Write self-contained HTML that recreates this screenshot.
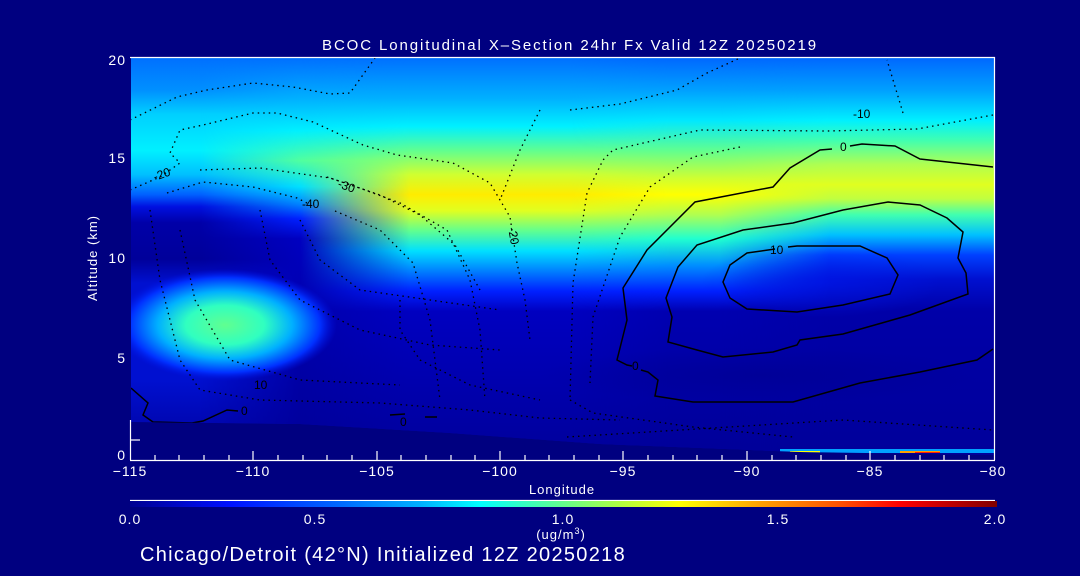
<!DOCTYPE html>
<html><head><meta charset="utf-8"><style>
html,body{margin:0;padding:0;background:#000080;}
svg{display:block;font-family:"Liberation Sans",sans-serif;}
</style></head><body>
<svg width="1080" height="576" viewBox="0 0 1080 576" xmlns="http://www.w3.org/2000/svg">
<defs>
<linearGradient id="gA" x1="0" y1="58" x2="0" y2="460" gradientUnits="userSpaceOnUse">
<stop offset="0" stop-color="#0070ff"/><stop offset="0.08" stop-color="#0090ff"/><stop offset="0.14" stop-color="#00d0ff"/><stop offset="0.23" stop-color="#00f0ff"/><stop offset="0.29" stop-color="#00c0ff"/><stop offset="0.34" stop-color="#0060ff"/><stop offset="0.37" stop-color="#0010e0"/><stop offset="0.41" stop-color="#0000a8"/><stop offset="0.5" stop-color="#00009a"/><stop offset="0.56" stop-color="#0010d0"/><stop offset="0.8" stop-color="#0010d0"/><stop offset="1" stop-color="#00009a"/></linearGradient>
<linearGradient id="gB" x1="0" y1="58" x2="0" y2="460" gradientUnits="userSpaceOnUse">
<stop offset="0" stop-color="#0070ff"/><stop offset="0.1" stop-color="#00b0ff"/><stop offset="0.18" stop-color="#00f0ff"/><stop offset="0.255" stop-color="#50ffa0"/><stop offset="0.32" stop-color="#00e0ff"/><stop offset="0.365" stop-color="#0080ff"/><stop offset="0.40" stop-color="#0020ff"/><stop offset="0.45" stop-color="#0000c0"/><stop offset="0.6" stop-color="#0000b0"/><stop offset="1" stop-color="#000098"/></linearGradient>
<linearGradient id="gC" x1="0" y1="58" x2="0" y2="460" gradientUnits="userSpaceOnUse">
<stop offset="0" stop-color="#0070ff"/><stop offset="0.1" stop-color="#00b0ff"/><stop offset="0.17" stop-color="#00f0ff"/><stop offset="0.23" stop-color="#60ff90"/><stop offset="0.29" stop-color="#d0ff30"/><stop offset="0.34" stop-color="#ffec00"/><stop offset="0.38" stop-color="#e0ff20"/><stop offset="0.43" stop-color="#60ff90"/><stop offset="0.48" stop-color="#00e0ff"/><stop offset="0.53" stop-color="#0080ff"/><stop offset="0.58" stop-color="#0020ff"/><stop offset="0.63" stop-color="#0000c0"/><stop offset="1" stop-color="#00009a"/></linearGradient>
<linearGradient id="gD" x1="0" y1="58" x2="0" y2="460" gradientUnits="userSpaceOnUse">
<stop offset="0" stop-color="#0068ff"/><stop offset="0.08" stop-color="#00a0ff"/><stop offset="0.155" stop-color="#00e8ff"/><stop offset="0.23" stop-color="#60ff90"/><stop offset="0.3" stop-color="#d0ff30"/><stop offset="0.34" stop-color="#ffff00"/><stop offset="0.39" stop-color="#b0ff50"/><stop offset="0.45" stop-color="#20ffd0"/><stop offset="0.515" stop-color="#0090ff"/><stop offset="0.58" stop-color="#0020ff"/><stop offset="0.63" stop-color="#0000b0"/><stop offset="1" stop-color="#000098"/></linearGradient>
<linearGradient id="gE" x1="0" y1="58" x2="0" y2="460" gradientUnits="userSpaceOnUse">
<stop offset="0" stop-color="#0068ff"/><stop offset="0.08" stop-color="#00a0ff"/><stop offset="0.155" stop-color="#00f0ff"/><stop offset="0.205" stop-color="#40ffb0"/><stop offset="0.265" stop-color="#b0ff50"/><stop offset="0.315" stop-color="#e0ff20"/><stop offset="0.35" stop-color="#c0ff40"/><stop offset="0.39" stop-color="#40ffb0"/><stop offset="0.44" stop-color="#00c0ff"/><stop offset="0.49" stop-color="#0040ff"/><stop offset="0.55" stop-color="#0010d0"/><stop offset="0.63" stop-color="#0000a8"/><stop offset="1" stop-color="#00009a"/></linearGradient>
<linearGradient id="fB" x1="200" y1="0" x2="300" y2="0" gradientUnits="userSpaceOnUse"><stop offset="0" stop-color="#fff" stop-opacity="0"/><stop offset="1" stop-color="#fff"/></linearGradient>
<linearGradient id="fC" x1="300" y1="0" x2="410" y2="0" gradientUnits="userSpaceOnUse"><stop offset="0" stop-color="#fff" stop-opacity="0"/><stop offset="1" stop-color="#fff"/></linearGradient>
<linearGradient id="fD" x1="570" y1="0" x2="670" y2="0" gradientUnits="userSpaceOnUse"><stop offset="0" stop-color="#fff" stop-opacity="0"/><stop offset="1" stop-color="#fff"/></linearGradient>
<linearGradient id="fE" x1="720" y1="0" x2="830" y2="0" gradientUnits="userSpaceOnUse"><stop offset="0" stop-color="#fff" stop-opacity="0"/><stop offset="1" stop-color="#fff"/></linearGradient>
<mask id="mB" maskUnits="userSpaceOnUse" x="0" y="0" width="1080" height="576"><rect x="0" y="0" width="1080" height="576" fill="url(#fB)"/></mask>
<mask id="mC" maskUnits="userSpaceOnUse" x="0" y="0" width="1080" height="576"><rect x="0" y="0" width="1080" height="576" fill="url(#fC)"/></mask>
<mask id="mD" maskUnits="userSpaceOnUse" x="0" y="0" width="1080" height="576"><rect x="0" y="0" width="1080" height="576" fill="url(#fD)"/></mask>
<mask id="mE" maskUnits="userSpaceOnUse" x="0" y="0" width="1080" height="576"><rect x="0" y="0" width="1080" height="576" fill="url(#fE)"/></mask>
<radialGradient id="blob" cx="0.5" cy="0.5" r="0.5">
<stop offset="0" stop-color="#60ff90"/><stop offset="0.35" stop-color="#30ffc0"/><stop offset="0.6" stop-color="#00b0ff"/><stop offset="0.85" stop-color="#0030ff"/><stop offset="1" stop-color="#0010e0" stop-opacity="0"/></radialGradient>
<radialGradient id="hole" cx="0.5" cy="0.5" r="0.5">
<stop offset="0" stop-color="#0018f0" stop-opacity="0.6"/><stop offset="1" stop-color="#0018f0" stop-opacity="0"/></radialGradient>
<radialGradient id="dk" cx="0.5" cy="0.5" r="0.5">
<stop offset="0" stop-color="#000090" stop-opacity="0.6"/><stop offset="1" stop-color="#000090" stop-opacity="0"/></radialGradient>
<linearGradient id="cb" x1="130" y1="0" x2="997" y2="0" gradientUnits="userSpaceOnUse">
<stop offset="0" stop-color="#000090"/><stop offset="0.115" stop-color="#0010ff"/><stop offset="0.23" stop-color="#0060ff"/><stop offset="0.335" stop-color="#00b0ff"/><stop offset="0.404" stop-color="#00ffff"/><stop offset="0.496" stop-color="#60ff90"/><stop offset="0.565" stop-color="#b0ff40"/><stop offset="0.634" stop-color="#ffff00"/><stop offset="0.727" stop-color="#ffa000"/><stop offset="0.819" stop-color="#ff5000"/><stop offset="0.888" stop-color="#ff0000"/><stop offset="1" stop-color="#800000"/></linearGradient>
<clipPath id="fc"><polygon points="131,58 995,58 995,455 800,452 600,444 450,433 300,424 131,422"/></clipPath>
</defs>

<g clip-path="url(#fc)">
<rect x="131" y="58" width="864" height="400" fill="url(#gA)"/>
<rect x="131" y="58" width="864" height="400" fill="url(#gB)" mask="url(#mB)"/>
<rect x="131" y="58" width="864" height="400" fill="url(#gC)" mask="url(#mC)"/>
<rect x="131" y="58" width="864" height="400" fill="url(#gD)" mask="url(#mD)"/>
<rect x="131" y="58" width="864" height="400" fill="url(#gE)" mask="url(#mE)"/>
<ellipse cx="225" cy="325" rx="112" ry="56" fill="url(#blob)"/>
<ellipse cx="820" cy="282" rx="120" ry="36" fill="url(#hole)"/>
<ellipse cx="760" cy="375" rx="220" ry="28" fill="url(#dk)"/>
<rect x="780" y="449" width="215" height="4" fill="#00a0ff"/>
<rect x="790" y="451" width="30" height="2" fill="#ffff00"/>
<rect x="900" y="451" width="40" height="2" fill="#ffa000"/>
<rect x="915" y="452" width="25" height="1" fill="#ff2000"/>

<g fill="none" stroke="#000" stroke-width="1.5">
<path d="M993,167 920,159 895,146 862,144 850,146 M832,149 820,150 790,168 773,187 695,202 647,250 623,288 627,320 617,360 627,365 632,366 M641,370 648,372 658,380 655,396 693,402 793,402 860,383 920,372 977,360 993,349"/>
<polygon points="963,232 947,218 920,205 888,202 843,210 793,223 743,230 697,245 678,267 666,298 672,317 668,342 697,350 723,357 773,352 797,345 800,340 843,334 910,315 968,294 966,273 958,258"/>
<path d="M775,249 747,253 730,265 723,282 730,298 747,309 797,312 843,305 890,294 898,275 887,258 860,246 797,246 788,247"/>
<path d="M131,388 148,403 143,415 153,422 192,423 203,421 227,410 238,411"/>
<path d="M390,415 405,414 M425,417 437,417"/>
</g>
<g fill="none" stroke="#000" stroke-width="1.3" stroke-dasharray="1.5 4">
<path d="M130,120 177,97 207,90 253,83 293,87 330,94 350,93 375,58"/>
<path d="M130,190 160,177 180,163 170,153 180,130 203,125 253,113 277,113 313,122 363,145 397,155 453,163 490,183 510,217 517,263 525,300 530,340"/>
<path d="M570,110 620,104 677,90 707,73 740,58"/>
<path d="M903,113 887,60"/>
<path d="M993,115 917,129 827,131 700,130 613,150 603,160 587,193 573,283 570,400"/>
<path d="M740,147 693,157 650,187 620,237 593,317 590,383"/>
<path d="M167,193 203,182 253,187 297,198 307,203 M335,211 380,230 413,263 430,320 440,400"/>
<path d="M327,177 357,187 400,203 447,230 470,280 480,330 485,400"/>
<path d="M200,170 260,168 330,178 380,195 420,215 455,245 480,290"/>
<path d="M570,400 593,413 693,427 793,437"/>
<path d="M567,437 843,420 993,430"/>
<path d="M150,210 160,280 170,320 180,360 200,390 260,400 380,403 470,410 540,418 620,420"/>
<path d="M180,230 195,300 230,360 300,380 400,385"/>
<path d="M260,210 270,260 300,300 360,330 430,345 500,350"/>
<path d="M300,220 320,260 360,290 430,300 500,310"/>
<path d="M400,300 400,330 420,360 470,385 540,400"/>
<path d="M540,110 520,150 500,200"/>
</g>
<g font-size="12" fill="#000">
<text x="155" y="181" transform="rotate(-20 155 181)">-20</text>
<text x="337" y="187" transform="rotate(20 337 187)">-30</text>
<text x="302" y="208">-40</text>
<text x="508" y="228" transform="rotate(80 508 228)">-20</text>
<text x="853" y="118">-10</text>
<text x="840" y="151">0</text>
<text x="770" y="254">10</text>
<text x="632" y="370">0</text>
<text x="241" y="415">0</text>
<text x="254" y="389">10</text>
<text x="400" y="426">0</text>
</g>
</g>

<g stroke="#fff" stroke-width="1.2" fill="none">
<line x1="130" y1="57.5" x2="995" y2="57.5"/>
<line x1="994.5" y1="57" x2="994.5" y2="460"/>
<line x1="130.5" y1="420" x2="130.5" y2="460"/>
<line x1="130" y1="460.5" x2="995" y2="460.5"/>
<line x1="130" y1="440" x2="140" y2="440"/>
<path d="M253,460v-9M377,460v-9M500,460v-9M623,460v-9M747,460v-9M870,460v-9"/>
<path d="M155,460v-5M179,460v-5M204,460v-5M229,460v-5M278,460v-5M303,460v-5M327,460v-5M352,460v-5M401,460v-5M426,460v-5M451,460v-5M475,460v-5M525,460v-5M549,460v-5M574,460v-5M599,460v-5M648,460v-5M673,460v-5M697,460v-5M722,460v-5M772,460v-5M796,460v-5M821,460v-5M846,460v-5M895,460v-5M920,460v-5M944,460v-5M969,460v-5"/>
<line x1="130" y1="500.5" x2="995" y2="500.5"/>
</g>
<rect x="130" y="501" width="867" height="6" fill="url(#cb)"/>

<g fill="#fff" font-size="14" letter-spacing="1">
<text x="570" y="50" text-anchor="middle" font-size="15" letter-spacing="1.9">BCOC Longitudinal X–Section 24hr  Fx Valid 12Z 20250219</text>
<g text-anchor="end">
<text x="126" y="65">20</text><text x="126" y="163">15</text><text x="126" y="263">10</text><text x="126" y="363">5</text><text x="126" y="460">0</text>
</g>
<g text-anchor="middle">
<text x="130" y="476">−115</text><text x="253" y="476">−110</text><text x="377" y="476">−105</text><text x="500" y="476">−100</text><text x="623" y="476">−95</text><text x="747" y="476">−90</text><text x="870" y="476">−85</text><text x="993" y="476">−80</text>
<text x="562" y="494" font-size="13">Longitude</text>
<text x="130" y="524">0.0</text><text x="315" y="524">0.5</text><text x="563" y="524">1.0</text><text x="778" y="524">1.5</text><text x="995" y="524">2.0</text>
<text x="561" y="539" font-size="13">(ug/m<tspan dy="-5" font-size="9">3</tspan><tspan dy="5">)</tspan></text>
</g>
<text x="97" y="258" font-size="13" text-anchor="middle" transform="rotate(-90 97 258)">Altitude (km)</text>
<text x="140" y="561" font-size="20" letter-spacing="1.3">Chicago/Detroit (42°N) Initialized 12Z 20250218</text>
</g>
</svg>
</body></html>
